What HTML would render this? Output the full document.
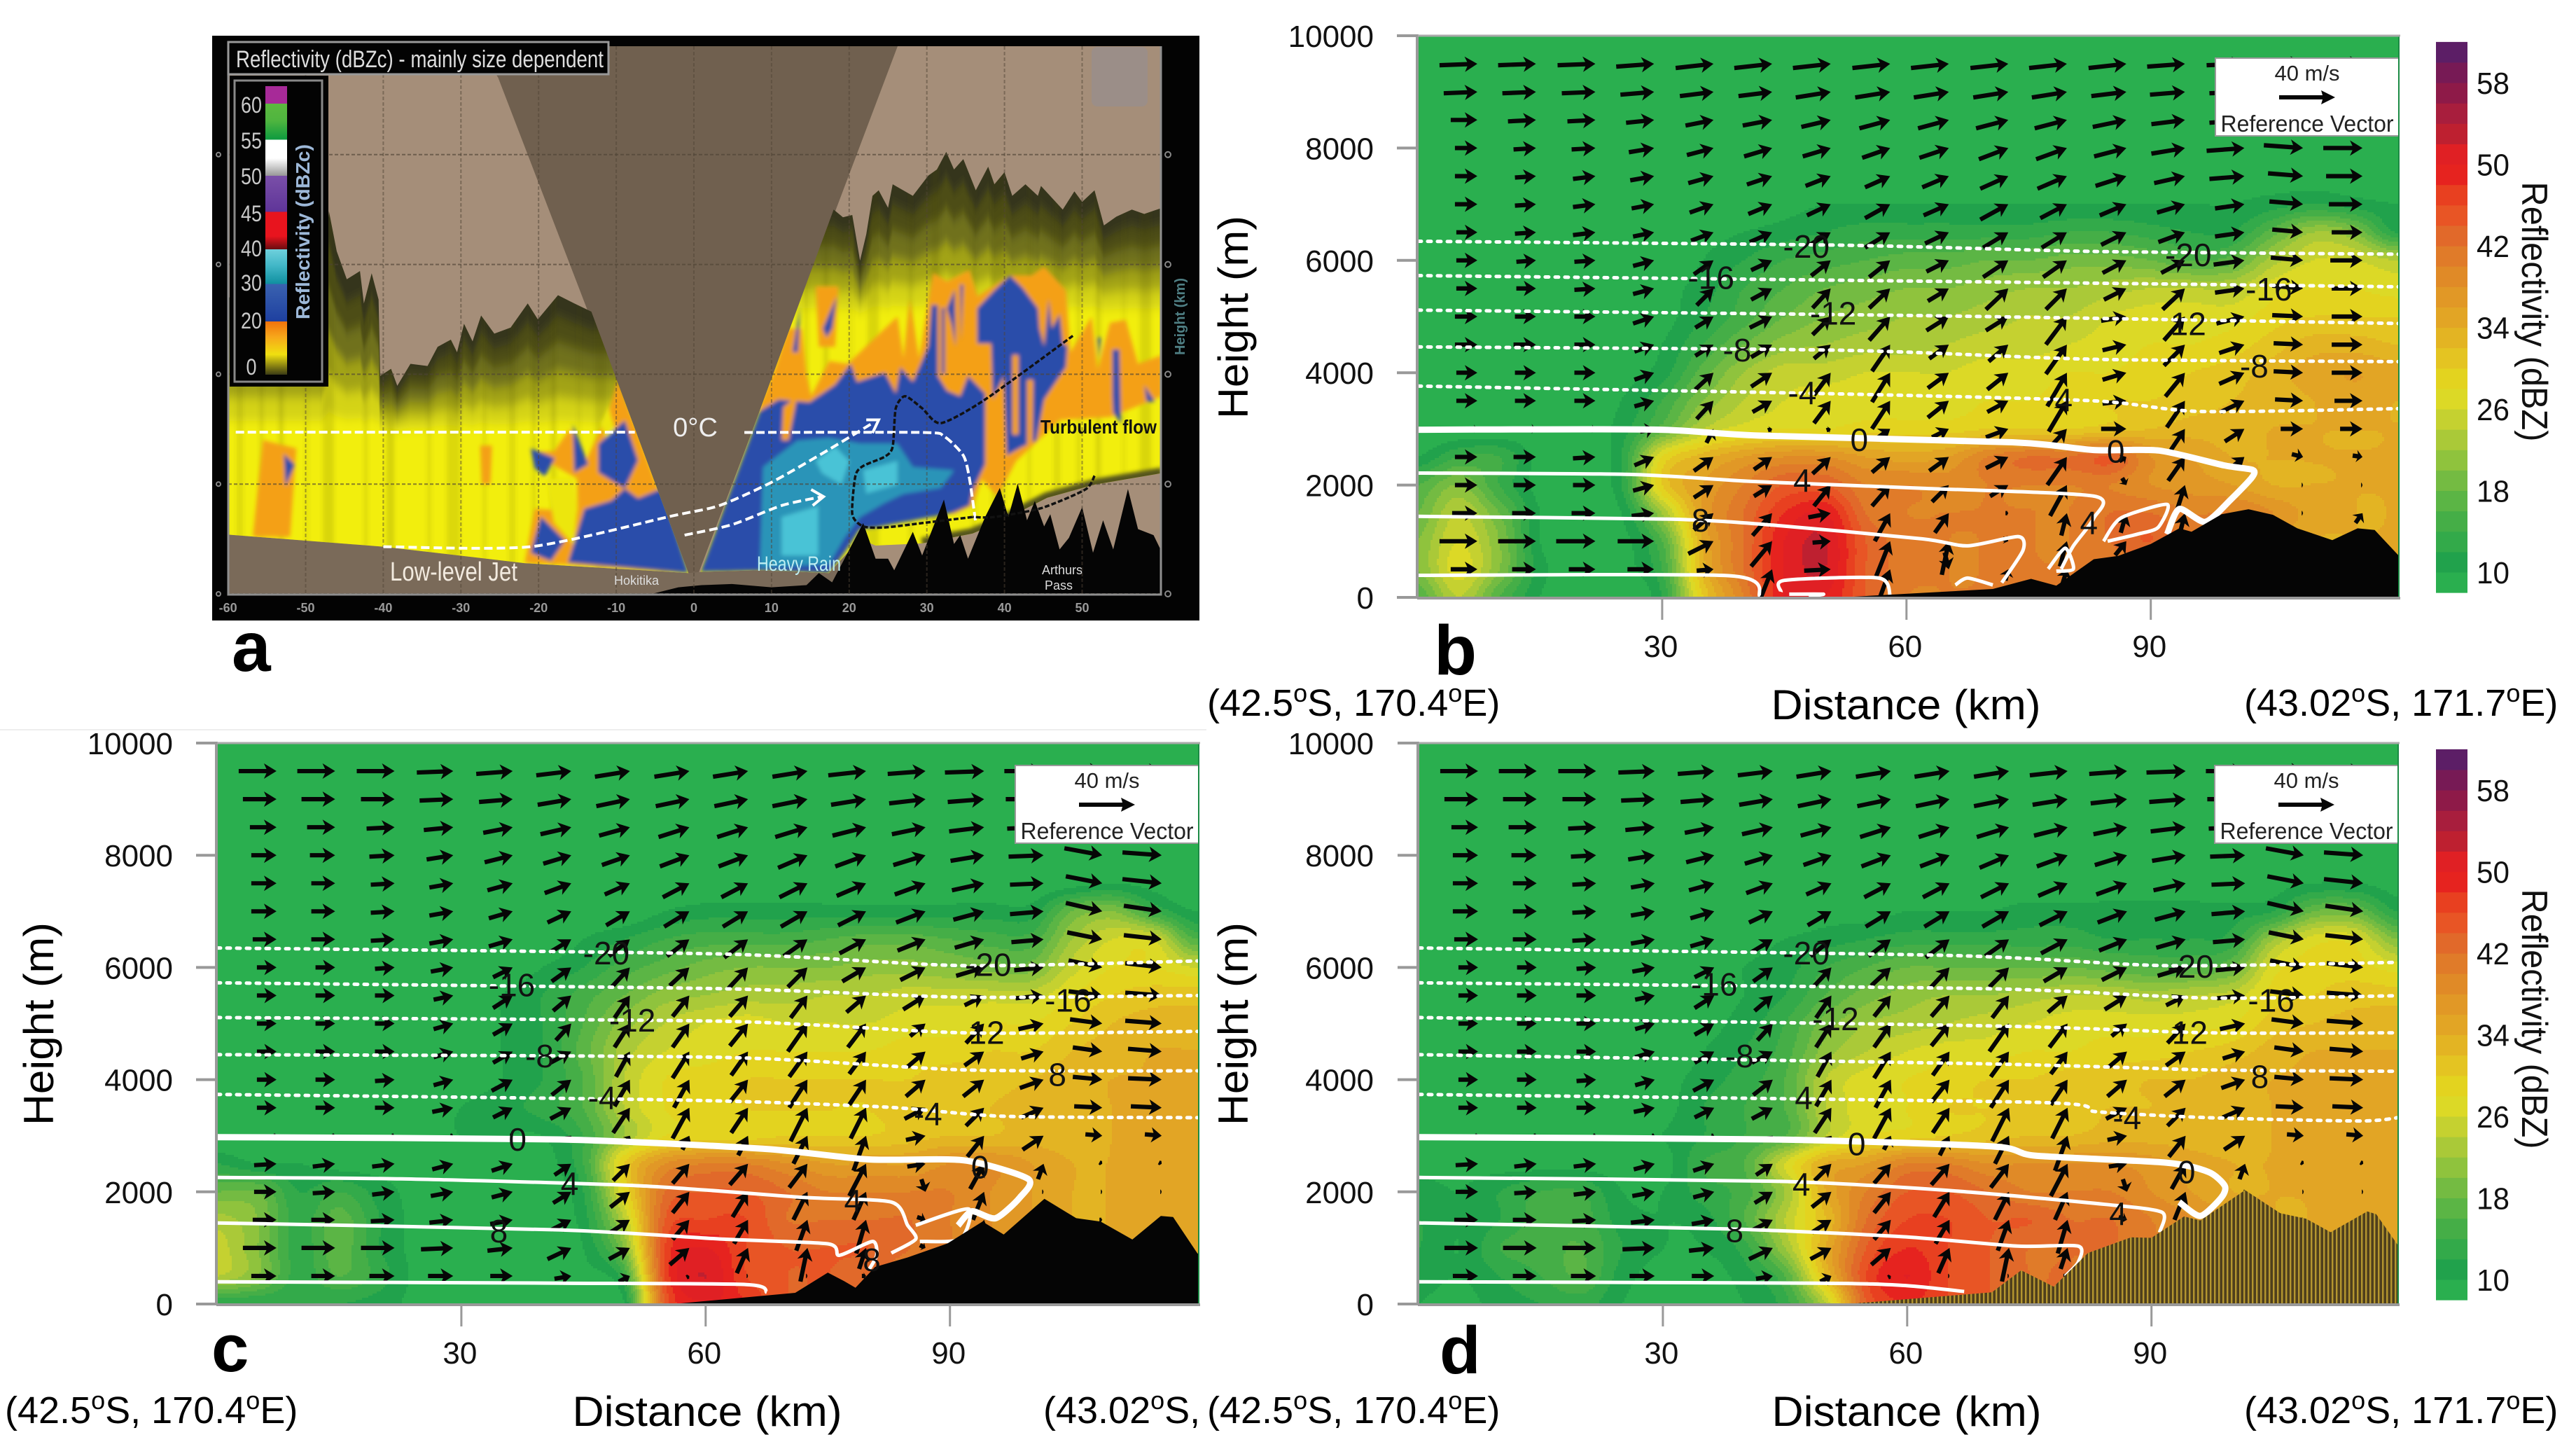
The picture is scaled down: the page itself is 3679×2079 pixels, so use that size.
<!DOCTYPE html>
<html lang="en">
<head>
<meta charset="utf-8">
<title>Reflectivity cross sections</title>
<style>
html,body{margin:0;padding:0;background:#fff}
svg{display:block}
text{font-family:"Liberation Sans",sans-serif}
</style>
</head>
<body>
<svg id="figure" xmlns="http://www.w3.org/2000/svg" width="3679" height="2079" viewBox="0 0 3679 2079">
<defs>
<filter id="radarBlur" x="-5%" y="-5%" width="110%" height="110%"><feGaussianBlur stdDeviation="2.8"/></filter>
<filter id="layerBlur" x="-5%" y="-10%" width="110%" height="120%"><feGaussianBlur stdDeviation="0 8"/></filter>
<pattern id="terrainStripes" width="6" height="10" patternUnits="userSpaceOnUse"><rect width="6" height="10" fill="#4f3f1c"/><rect x="0" width="2.4" height="10" fill="#b4962f"/></pattern>
<pattern id="radarStreaks" width="389" height="10" patternUnits="userSpaceOnUse"><rect x="9" width="7" height="10" fill="#4a4a10" fill-opacity=".16"/><rect x="47" width="4" height="10" fill="#4a4a10" fill-opacity=".11"/><rect x="72" width="16" height="10" fill="#4a4a10" fill-opacity=".14"/><rect x="131" width="5" height="10" fill="#4a4a10" fill-opacity=".13"/><rect x="163" width="11" height="10" fill="#4a4a10" fill-opacity=".17"/><rect x="221" width="6" height="10" fill="#4a4a10" fill-opacity=".11"/><rect x="249" width="19" height="10" fill="#4a4a10" fill-opacity=".13"/><rect x="301" width="4" height="10" fill="#4a4a10" fill-opacity=".15"/><rect x="338" width="9" height="10" fill="#4a4a10" fill-opacity=".12"/><rect x="371" width="5" height="10" fill="#4a4a10" fill-opacity=".14"/></pattern>
<linearGradient id="radarScale" x1="0" y1="0" x2="0" y2="1">
<stop offset="0" stop-color="#a72a98"/><stop offset=".06" stop-color="#a72a98"/><stop offset=".061" stop-color="#5cb93f"/><stop offset=".12" stop-color="#4fb53f"/><stop offset=".185" stop-color="#0d9a3f"/><stop offset=".186" stop-color="#fff"/><stop offset=".25" stop-color="#fff"/><stop offset=".31" stop-color="#999"/><stop offset=".311" stop-color="#7a4fa8"/><stop offset=".435" stop-color="#5f3599"/><stop offset=".436" stop-color="#e8141e"/><stop offset=".52" stop-color="#e8141e"/><stop offset=".565" stop-color="#6a0c10"/><stop offset=".566" stop-color="#6fd0dc"/><stop offset=".62" stop-color="#43b8c8"/><stop offset=".685" stop-color="#1090a0"/><stop offset=".686" stop-color="#3a62b0"/><stop offset=".815" stop-color="#1e40a0"/><stop offset=".816" stop-color="#f0730c"/><stop offset=".87" stop-color="#f7a81a"/><stop offset=".93" stop-color="#f0e010"/><stop offset="1" stop-color="#3b3b14"/>
</linearGradient>
<clipPath id="clipC"><rect x="310" y="1061" width="1402" height="801"/></clipPath>
<clipPath id="clipB"><rect x="2025" y="51" width="1401" height="802"/></clipPath>
<clipPath id="clipD"><rect x="2026" y="1061" width="1399" height="801"/></clipPath>
<clipPath id="clipCoordC"><rect x="1400" y="1960" width="322" height="119"/></clipPath>
<clipPath id="clipRadarPlot"><rect x="326" y="66" width="1332" height="782"/></clipPath>
</defs>
<rect width="3679" height="2079" fill="#fff"/>
<line x1="0" y1="1042" x2="1723" y2="1042" stroke="#eee" stroke-width="2"/>

<g id="panelA"></g>
<g id="panelB"></g>
<g id="panelC"></g>
<g id="panelD"></g>

<text x="331" y="958" font-size="100" font-weight="bold">a</text>
<text x="2048" y="963" font-size="100" font-weight="bold">b</text>
<text x="302" y="1958" font-size="96" font-weight="bold">c</text>
<text x="2056" y="1961" font-size="96" font-weight="bold">d</text>

<text transform="translate(1782,453) rotate(-90)" text-anchor="middle" font-size="60" textLength="290" lengthAdjust="spacingAndGlyphs">Height (m)</text>
<text transform="translate(76,1462) rotate(-90)" text-anchor="middle" font-size="60" textLength="290" lengthAdjust="spacingAndGlyphs">Height (m)</text>
<text transform="translate(1782,1462) rotate(-90)" text-anchor="middle" font-size="60" textLength="290" lengthAdjust="spacingAndGlyphs">Height (m)</text>

<text x="2722" y="1027" text-anchor="middle" font-size="60" textLength="385" lengthAdjust="spacingAndGlyphs">Distance (km)</text>
<text x="1010" y="2036" text-anchor="middle" font-size="60" textLength="385" lengthAdjust="spacingAndGlyphs">Distance (km)</text>
<text x="2723" y="2036" text-anchor="middle" font-size="60" textLength="385" lengthAdjust="spacingAndGlyphs">Distance (km)</text>

<text x="1724" y="1022" font-size="54">(42.5<tspan dy="-20" font-size="36">o</tspan><tspan dy="20">S, 170.4</tspan><tspan dy="-20" font-size="36">o</tspan><tspan dy="20">E)</tspan></text>
<text x="3205" y="1022" font-size="54">(43.02<tspan dy="-20" font-size="36">o</tspan><tspan dy="20">S, 171.7</tspan><tspan dy="-20" font-size="36">o</tspan><tspan dy="20">E)</tspan></text>
<text x="7" y="2032" font-size="54">(42.5<tspan dy="-20" font-size="36">o</tspan><tspan dy="20">S, 170.4</tspan><tspan dy="-20" font-size="36">o</tspan><tspan dy="20">E)</tspan></text>
<g clip-path="url(#clipCoordC)"><text x="1490" y="2032" font-size="54">(43.02<tspan dy="-20" font-size="36">o</tspan><tspan dy="20">S, 171.7</tspan><tspan dy="-20" font-size="36">o</tspan><tspan dy="20">E)</tspan></text></g>
<text x="1724" y="2032" font-size="54">(42.5<tspan dy="-20" font-size="36">o</tspan><tspan dy="20">S, 170.4</tspan><tspan dy="-20" font-size="36">o</tspan><tspan dy="20">E)</tspan></text>
<text x="3205" y="2032" font-size="54">(43.02<tspan dy="-20" font-size="36">o</tspan><tspan dy="20">S, 171.7</tspan><tspan dy="-20" font-size="36">o</tspan><tspan dy="20">E)</tspan></text>
</svg>

<script>
/* ---------- shared axis data ---------- */
const heightTicks=[0,2000,4000,6000,8000,10000];
const distanceTicks=[30,60,90];
const colorbarTicks=[10,18,26,34,42,50,58];
const bandLevels=[8,10,12,14,16,18,20,22,24,26,28,30,32,34,36,38,40,42,44,46,48,50,52,54,56,58,60];
const bandColors=["#2aaf4f","#21a24c","#33aa4a","#45ae47","#5bb545","#74bb42","#8fc33d","#aac938","#c5d130","#dcd926","#e3d31f","#e4c422","#e3b423","#e2a525","#e19826","#e08a27","#e07b29","#e1692a","#e85525","#e84020","#e6231f","#e02024","#be2030","#a81e3d","#8e1a48","#771a55","#5c1e66"];
const gridDistances=[0,5,10,15,20,25,30,35,40,45,50,55,60,65,70,75,80,85,90,95,100,105,110,115,120];
const gridHeights=[10000,9500,9000,8500,8000,7500,7000,6500,6000,5500,5000,4500,4000,3500,3000,2500,2000,1500,1000,500,0];
const windDistances=[7.3,14.5,21.8,29,36.3,43.5,50.7,58,65.2,72.5,79.7,87,94.2,101.5,108.7,116];
const windHeights=[9500,9000,8500,8000,7500,7000,6500,6000,5500,5000,4500,4000,3500,3000,2500,2000,1500,1000,500];

/* ---------- reflectivity (dBZ), rows top to bottom ---------- */
const reflectivityB=[
[8,8,8,8,8,8,8,8,8,8,8,8,8,8,8,8,8,8,8,8,8,8,8,8,8],
[8,8,8,8,8,8,8,8,8,8,8,8,8,8,8,8,8,8,8,8,8,8,8,8,8],
[8,8,8,8,8,8,8,8,8,8,8,8,8,8,8,8,8,8,8,8,8,8,8,8,8],
[8,8,8,8,8,8,8,8,8,8,8,8,8,8,8,8,8,8,8,8,8,8,8,8,8],
[8,8,8,8,8,8,8,8,8,8,8,8,8,8,8,8,8,8,8,8,8,8,8,8,8],
[8,8,8,8,8,8,8,8,8,8,8,8,8,8,8,8,8,8,8,8,9,9,9,9,8],
[8,8,8,8,8,8,8,8,8,9,10,10,10,10,10,10,10,10,10,10,10,11,12,11,10],
[8,8,8,8,8,8,8,9,10,11,12,13,13,13,13,13,14,14,13,12,12,17,22,20,12],
[8,8,8,8,8,8,8,10,12,14,15,16,17,17,18,18,19,19,18,16,17,23,26,26,24],
[8,8,8,8,8,8,9,11,14,16,18,19,20,20,21,22,22,23,24,24,24,27,28,28,27],
[8,8,8,8,8,8,9,12,15,18,20,21,22,22,23,24,24,26,27,27,27,29,30,30,30],
[8,8,8,8,8,8,10,14,18,21,22,23,23,24,25,25,26,27,28,28,29,31,33,33,32],
[8,8,8,8,8,9,11,17,22,25,25,26,26,26,27,27,28,28,29,30,31,33,35,36,35],
[8,8,8,8,8,10,14,20,24,26,27,27,27,27,28,28,29,30,30,31,32,33,34,35,34],
[8,8,8,8,8,11,17,24,27,28,28,29,29,29,30,30,30,31,32,33,33,34,34,34,34],
[10,14,14,9,8,12,28,33,36,38,38,36,35,36,40,42,42,44,38,36,34,34,34,34,34],
[16,20,14,9,8,12,30,36,40,44,44,40,40,39,40,40,40,40,38,37,36,34,34,34,34],
[18,24,18,10,8,10,22,36,42,48,50,42,40,40,40,40,40,42,42,40,40,38,35,34,34],
[20,26,20,10,8,9,16,34,42,50,52,44,41,40,40,40,40,42,44,40,38,36,34,34,34],
[20,27,20,11,8,9,14,33,42,50,52,44,41,40,40,40,40,40,40,38,36,34,34,34,34],
[16,24,16,10,8,8,12,30,40,50,50,44,40,40,40,40,40,40,38,36,34,34,34,34,34]
];
const reflectivityC=[
[8,8,8,8,8,8,8,8,8,8,8,8,8,8,8,8,8,8,8,8,8,8,8,8,8],
[8,8,8,8,8,8,8,8,8,8,8,8,8,8,8,8,8,8,8,8,8,8,8,8,8],
[8,8,8,8,8,8,8,8,8,8,8,8,8,8,8,8,8,8,8,8,8,8,8,8,8],
[8,8,8,8,8,8,8,8,8,8,8,8,8,8,8,8,8,8,8,8,8,8,8,8,8],
[8,8,8,8,8,8,8,8,8,8,8,8,8,8,8,8,8,8,8,8,8,8,8,8,8],
[8,8,8,8,8,8,8,8,8,8,8,8,8,8,8,8,8,8,8,8,8,9,10,9,8],
[8,8,8,8,8,8,8,8,8,8,8,10,11,11,11,11,11,11,11,11,11,18,20,14,10],
[8,8,8,8,8,8,8,8,8,10,12,14,15,15,15,16,17,17,16,15,15,22,26,26,16],
[8,8,8,8,8,8,8,8,10,12,15,17,19,20,20,20,21,21,20,19,19,25,28,28,26],
[8,8,8,8,8,8,8,10,12,15,18,21,22,23,23,24,24,25,25,25,25,28,30,31,31],
[8,8,8,8,8,8,8,10,12,16,21,24,26,27,26,26,26,27,27,28,28,30,32,33,33],
[8,8,8,8,8,8,9,10,12,17,23,26,27,28,28,28,28,29,29,30,30,32,33,34,34],
[8,8,8,8,8,8,9,10,12,16,24,28,29,30,30,30,30,30,31,31,32,33,34,34,34],
[8,8,8,8,8,9,10,11,13,16,24,28,29,30,30,30,30,31,31,32,33,33,34,34,34],
[8,8,8,8,8,9,10,10,10,14,22,28,29,29,30,30,30,31,32,32,33,33,34,34,34],
[12,10,10,9,9,9,9,9,9,14,30,38,40,40,38,36,36,36,38,38,36,34,34,34,34],
[18,18,12,14,11,9,8,8,9,12,28,42,44,44,42,40,40,40,40,38,36,34,34,34,34],
[23,20,13,17,12,9,8,8,9,11,24,44,46,46,42,42,42,42,40,38,36,34,34,34,34],
[25,20,13,17,12,9,8,8,8,10,20,46,50,46,44,44,44,42,40,38,36,34,34,34,34],
[24,20,13,16,13,9,8,8,8,9,14,46,52,46,44,44,42,40,38,36,34,34,34,34,34],
[12,12,12,12,11,9,8,8,8,8,10,44,50,48,44,44,42,40,38,36,34,34,34,34,34]
];
const reflectivityD=[
[8,8,8,8,8,8,8,8,8,8,8,8,8,8,8,8,8,8,8,8,8,8,8,8,8],
[8,8,8,8,8,8,8,8,8,8,8,8,8,8,8,8,8,8,8,8,8,8,8,8,8],
[8,8,8,8,8,8,8,8,8,8,8,8,8,8,8,8,8,8,8,8,8,8,8,8,8],
[8,8,8,8,8,8,8,8,8,8,8,8,8,8,8,8,8,8,8,8,8,8,8,8,8],
[8,8,8,8,8,8,8,8,8,8,8,8,8,8,8,8,8,8,8,8,8,8,8,8,8],
[8,8,8,8,8,8,8,8,8,8,8,8,8,8,8,8,8,8,8,8,8,9,10,10,9],
[8,8,8,8,8,8,8,8,8,8,9,9,10,10,10,11,11,11,11,11,11,12,18,18,12],
[8,8,8,8,8,8,8,8,9,10,11,12,13,13,13,13,13,12,12,12,13,22,27,27,20],
[8,8,8,8,8,8,8,9,10,11,14,16,18,18,18,18,18,17,16,16,18,27,29,29,27],
[8,8,8,8,8,8,8,9,10,12,16,19,21,22,22,23,24,24,23,24,25,29,30,31,31],
[8,8,8,8,8,8,8,9,11,14,19,22,23,24,25,26,27,27,27,27,28,31,32,33,33],
[8,8,8,8,8,8,8,10,12,15,21,24,26,27,27,28,28,29,29,30,31,33,34,34,34],
[8,8,8,8,8,8,9,11,13,16,24,27,28,29,30,30,31,31,32,32,33,34,34,34,34],
[8,8,8,8,8,8,9,12,14,16,24,27,28,30,30,31,31,32,32,33,33,34,34,34,34],
[8,8,8,8,8,9,10,12,14,16,24,28,29,30,31,32,32,33,33,33,33,34,34,34,34],
[9,9,9,9,9,9,9,14,16,26,34,36,40,40,38,38,38,38,37,35,34,34,34,34,34],
[11,10,12,14,14,10,10,13,15,22,34,40,44,44,42,40,40,40,38,36,34,34,34,34,34],
[12,10,12,15,15,11,10,11,16,24,32,42,46,46,44,44,42,42,40,38,36,34,34,34,34],
[12,10,14,15,16,12,10,10,13,22,34,44,48,46,44,42,42,42,40,38,36,34,34,34,34],
[11,10,12,14,16,11,9,9,11,16,32,46,50,46,44,42,42,40,38,36,34,34,34,34,34],
[10,9,11,12,13,10,9,9,10,13,24,44,48,46,44,42,42,40,38,36,34,34,34,34,34]
];

/* ---------- wind components (m/s), rows top to bottom ---------- */
const windUB=[
[27,27,27,27,27,27,27,27,27,27,27,27,27,27,27,27],
[24,24,24,24,24,24,25,25,25,25,25,25,25,25,25,25],
[19,20,20,20,20,21,21,22,22,23,23,24,24,25,25,25],
[16,16,17,18,19,20,20,20,21,21,22,23,24,27,28,28],
[16,15,16,17,18,18,18,18,19,20,21,22,22,25,25,26],
[16,15,16,16,17,17,17,18,18,20,19,19,20,21,24,24],
[15,15,16,15,16,16,15,18,17,18,18,18,19,21,22,22],
[15,14,15,15,14,15,14,15,16,18,17,17,17,22,23,23],
[15,14,15,15,12,15,13,15,15,16,15,16,16,21,22,22],
[16,15,15,15,13,16,13,15,16,16,15,18,15,20,22,22],
[16,16,15,14,13,15,12,13,14,14,15,17,15,18,21,22],
[15,15,15,14,13,15,12,13,15,15,14,17,14,18,21,22],
[15,15,15,14,12,14,12,13,15,15,13,17,13,17,20,20],
[4,5,4,10,5,3,3,10,12,16,12,18,10,14,16,16],
[16,16,16,14,14,13,13,13,14,16,14,5,12,10,8,7],
[16,16,16,15,14,13,12,13,12,13,12,3,7,1,1,1],
[18,17,17,16,14,14,16,11,10,2,4,4,4,1,1,5],
[27,27,28,26,18,15,13,10,5,4,5,8,8,1,1,1],
[19,17,19,19,12,8,19,8,3,2,3,4,2,1,1,1]
];
const windVB=[
[1,1,1,2,3,3,3,3,3,3,3,3,2,1,0,0],
[1,1,1,2,3,3,4,4,4,4,4,3,2,1,0,0],
[0,1,1,2,4,4,5,6,6,6,6,5,3,2,0,0],
[0,1,1,3,5,6,6,7,7,8,8,6,4,2,-2,0],
[0,1,2,3,5,6,7,8,8,9,9,7,5,2,-2,0],
[0,1,2,3,6,7,8,10,8,11,10,8,6,3,-2,0],
[0,1,2,3,6,7,9,11,8,11,11,9,7,3,-2,0],
[0,1,1,4,10,7,11,12,8,12,12,9,9,3,-2,0],
[0,0,1,4,12,8,14,14,9,15,15,8,15,3,-2,0],
[0,0,0,5,8,8,13,17,10,10,20,3,17,5,-1,0],
[0,0,0,5,8,9,10,19,10,12,21,4,15,6,-1,0],
[0,0,0,5,12,10,16,21,11,12,24,5,17,8,-1,0],
[0,0,0,4,13,8,16,20,12,8,22,2,19,8,-1,0],
[0,0,0,2,10,1,1,7,6,6,13,0,15,9,0,0],
[0,0,1,6,10,9,12,11,10,8,20,3,17,8,-2,-1],
[0,0,0,4,9,8,15,15,12,8,22,-5,22,0,0,0],
[0,0,0,2,12,16,3,20,14,0,16,14,16,0,0,7],
[0,0,0,0,9,18,1,25,24,-2,18,10,10,0,0,0],
[0,0,0,0,1,20,1,22,-12,8,10,4,2,0,0,0]
];
const windUC=[
[27,27,27,26,26,25,25,25,25,25,27,27,28,28,28,28],
[24,24,24,24,24,24,24,24,24,25,25,26,26,27,27,27],
[19,20,20,21,21,22,22,22,22,23,24,24,25,26,27,27],
[18,18,18,19,20,20,20,21,21,21,22,23,24,25,27,28],
[18,17,17,17,18,19,18,19,19,20,21,22,23,24,26,28],
[18,17,17,17,17,17,17,18,18,19,20,21,22,24,26,27],
[17,17,17,17,17,15,15,16,17,17,19,20,21,23,25,27],
[14,14,14,16,14,14,13,14,14,14,17,18,20,21,24,26],
[14,14,14,14,14,13,11,12,13,12,14,16,14,20,24,26],
[14,14,14,14,14,11,11,12,13,14,13,11,13,18,23,26],
[14,14,14,14,14,15,10,12,12,13,12,13,14,16,21,24],
[14,14,14,14,15,14,11,11,13,13,12,14,15,17,21,24],
[14,14,14,15,14,15,12,12,12,12,11,15,13,16,20,22],
[2,2,2,2,2,3,3,5,7,10,9,14,12,15,12,12],
[16,16,16,15,15,12,12,12,13,13,12,13,10,4,2,2],
[16,16,16,16,15,13,14,12,11,10,9,3,8,1,1,1],
[17,17,17,17,16,14,14,12,10,8,7,6,4,3,2,1],
[24,24,24,23,18,17,15,14,8,5,5,4,3,2,2,1],
[18,17,18,18,16,12,8,2,1,1,3,3,2,2,1,1]
];
const windVC=[
[0,0,0,1,2,3,4,4,4,4,3,2,1,0,-1,0],
[0,0,0,1,2,4,5,5,5,5,4,3,2,0,-1,0],
[0,0,1,2,4,5,6,7,7,7,6,5,3,1,-2,-1],
[0,0,1,3,5,6,7,8,8,9,8,7,4,1,-5,-2],
[0,0,1,3,5,7,8,10,10,10,9,8,5,1,-5,-3],
[0,0,1,3,5,8,10,11,11,11,10,8,6,2,-6,-4],
[0,0,1,3,5,9,12,12,13,12,10,8,6,2,-5,-3],
[0,0,1,3,7,10,14,13,15,14,10,9,6,2,-5,-3],
[0,0,0,3,9,11,16,15,15,16,12,10,7,2,-3,-2],
[0,0,0,4,8,12,17,17,16,20,17,9,14,4,-3,-2],
[0,0,0,4,8,8,18,19,17,18,16,11,10,5,-3,-2],
[0,0,1,4,8,11,19,20,16,20,18,12,12,6,-2,-1],
[0,0,0,3,7,8,18,22,18,24,22,8,13,7,-1,-1],
[0,0,0,0,0,4,5,10,14,20,25,3,15,10,-1,-1],
[1,2,2,4,5,8,12,14,15,17,23,2,18,11,-1,-1],
[0,1,2,3,4,8,11,15,18,20,20,-9,20,0,0,0],
[0,0,1,2,3,7,9,14,17,22,24,-2,20,1,0,0],
[0,0,0,1,2,8,8,12,18,24,15,-2,10,0,0,0],
[0,0,0,0,0,2,4,1,0,0,0,0,0,0,0,0]
];

/* ---------- terrain: [km, m] ---------- */
const terrainB=[[51.9,0],[70.6,150],[75.3,330],[78.4,210],[83,680],[86,740],[90,950],[93.5,1230],[95,1170],[98.7,1480],[102,1570],[105,1470],[108,1230],[112.3,1020],[115.4,1230],[117.5,1200],[120.4,750]];
const terrainC=[[56,0],[71,200],[75,560],[77,410],[78.4,290],[80.8,660],[84.8,830],[89.7,1080],[94,1470],[96.6,1240],[101.6,1876],[105.5,1530],[108.5,1470],[112.4,1150],[115.9,1570],[117.4,1550],[120.4,900]];
const terrainD=[[52.6,0],[70.4,210],[74,600],[78,310],[82.2,910],[87.5,1190],[90,1180],[94,1560],[96,1490],[101.5,2030],[105.8,1620],[109,1520],[112,1280],[116.5,1650],[117.6,1600],[120.3,1040]];

/* ---------- isotherms: [km, m] ---------- */
const coldIsothermsB=[
[[0,6340],[52,6270],[83,6160],[120.4,6110]],
[[0,5730],[62,5630],[120.4,5530]],
[[0,5115],[62,5016],[120.4,4877]],
[[0,4460],[52,4400],[83,4240],[120.4,4197]],
[[0,3762],[52,3622],[83,3500],[96,3310],[120.4,3360]]
];
const freezingLineB=[[0,2985],[10,2990],[30,2985],[42,2880],[73,2762],[83,2623],[91,2615],[99,2350],[102.5,2270],[102.4,2131],[99.8,1738],[96.7,1344],[93.5,1574],[92,1123]];
const warmIsothermsB=[
[[0,2213],[26,2190],[41,2065],[62,1943],[83,1803],[83,1410],[80.5,918],[79,508]],
[[77.4,508],[79.5,877],[80.5,508],[78.4,467]],
[[84.2,1000],[86.3,1410],[92,1656],[90.9,1246],[88.3,1123],[84.7,1000]],
[[0,1443],[31,1393],[43.6,1287],[62,1041],[67.5,918],[73.75,1082],[74.3,836],[71.7,262]],
[[0,393],[38.3,385],[42,16]],
[[44.6,98],[45,303],[56.6,344],[58,16]],
[[45.6,57],[49.8,57],[48,20]],
[[66,221],[67.5,344],[70.6,221]]
];
const coldIsothermsC=[
[[0,6347],[62,6240],[91.7,6033],[120.4,6116]],
[[0,5727],[62,5620],[91.7,5470],[120.4,5500]],
[[0,5107],[62,5041],[91.7,4835],[120.4,4860]],
[[0,4446],[62,4397],[91.7,4174],[120.4,4157]],
[[0,3736],[57,3636],[82,3512],[96.6,3347],[120.4,3322]]
];
const freezingLineC=[[0,2975],[42,2934],[67,2768],[80,2578],[91.7,2562],[99.6,2231],[98.6,1901],[95.6,1529],[92.7,1653],[91,1400]];
const warmIsothermsC=[
[[0,2256],[22.6,2231],[52,2107],[72,1900],[82.8,1818],[84.8,1405],[85.8,1157],[82.8,909]],
[[85.8,1405],[92.3,1694],[91.3,1157],[86.3,1116]],
[[0,1446],[42,1322],[62,1157],[75,1074],[76.4,868],[80.5,1116],[81,868],[80,600]],
[[0,397],[42,372],[65,347],[67.5,207]]
];
const coldIsothermsD=[
[[0,6347],[65,6215],[91.8,6033],[120.3,6091]],
[[0,5727],[70,5620],[97,5455],[120.3,5496]],
[[0,5107],[70,4959],[97,4835],[120.3,4835]],
[[0,4446],[70,4281],[97,4174],[120.3,4149]],
[[0,3736],[75.7,3595],[83.2,3430],[97,3322],[115.5,3264],[120.3,3322]]
];
const freezingLineD=[[0,2975],[43.5,2934],[70.4,2810],[75.7,2645],[91.8,2521],[97,2355],[99,2107],[98.6,1901],[96,1570],[93.4,1818]];
const warmIsothermsD=[
[[0,2256],[43.5,2190],[65,2025],[84.3,1777],[91.3,1636],[91,1281]],
[[0,1446],[38,1339],[59.6,1198],[73.5,1033],[81,1033],[81,744],[79.4,496]],
[[0,397],[48.9,372],[59.6,331],[67,223]]
];

/* ---------- contour labels: [text, km, m] ---------- */
const contourLabelsB=[["-20",47.7,6246],["-20",94.6,6098],["-16",36,5689],["-16",104.5,5484],["-12",51,5057],["12",94.6,4869],["-8",39.2,4402],["-8",102.7,4115],["-4",47.2,3639],["4",79.3,3516],["0",54.2,2803],["0",85.7,2598],["4",47.2,2082],["4",82.4,1328],["8",34.7,1369]];
const contourLabelsC=[["-20",47.8,6256],["-20",94.7,6050],["-16",36.2,5686],["-16",104.5,5413],["-12",51,5058],["12",94.5,4835],["-8",39.6,4421],["8",103.2,4091],["-4",47.3,3678],["-4",87.3,3388],["0",36.9,2934],["0",93.7,2438],["4",43.3,2149],["4",78.1,1835],["8",34.6,1298],["8",80.4,785]];
const contourLabelsD=[["-20",47.6,6256],["-20",94.8,6017],["-16",36.3,5702],["-16",104.7,5413],["-12",51.2,5083],["12",94.7,4835],["-8",39.4,4421],["8",103.3,4050],["4",47.3,3678],["-4",87,3322],["0",53.8,2851],["0",94.3,2355],["4",47,2132],["4",85.9,1612],["8",38.8,1306]];

/* ---------- radar panel a: polygons in [km, km height] ---------- */
const radarXTicks=[-60,-50,-40,-30,-20,-10,0,10,20,30,40,50];
const radarZTicks=[0,2,4,6,8];
const radarScaleLabels=[["60",150],["55",201],["50",252],["45",305],["40",355],["30",404],["20",458],["0",524]];
const coneLeftEdge=[[-25.2,9.4],[-0.7,0.38]];
const coneRightEdge=[[0.6,0.38],[26.3,10]];
const leftTop=[[-60,5.4],[-48,5.4],[-47,6.97],[-46,6.24],[-44.7,5.73],[-43,5.88],[-42.5,5.29],[-41.5,5.84],[-40.6,5.36],[-40.4,3.97],[-39,4.1],[-38.2,3.79],[-36.5,4.19],[-34.3,4.15],[-33,4.5],[-31.3,4.63],[-30.5,4.4],[-29.6,4.92],[-28.5,4.6],[-27.4,5.07],[-25.7,4.74],[-23.6,4.85],[-21.4,5.29],[-20.1,5],[-17.5,5.44],[-15.4,5.29],[-13.2,5.14]];
const leftBottom=[[-0.7,0.38],[-21.8,0.56],[-40,0.86],[-60,1.08]];
const rightTop=[[18,7],[19.2,6.86],[20.4,6.9],[21.4,6.07],[22.2,6.55],[23,7.25],[23.8,7.35],[25,7.03],[25.6,7.46],[28.2,7.25],[30.2,7.62],[31.3,7.73],[32.5,8.05],[33.5,7.73],[34.7,7.92],[36.3,7.35],[37.9,7.78],[38.7,7.46],[40,7.68],[41,7.25],[42.7,7.46],[44.3,7.25],[44.7,7.43],[47.5,7],[49,7.33],[50,7.14],[51.6,7.35],[52.8,6.71],[54.4,6.87],[56.4,7],[58,6.92],[60.3,7.03]];
const rightBottom=[[60.3,2.2],[51.6,1.99],[45.5,1.75],[39.5,1.32],[35.9,1.1],[29.4,0.92],[23.4,0.88],[21.4,1],[17.4,0.38],[8.5,0.43],[0.85,0.4]];
const groundDark=[[-60,0],[-60,1.08],[-40,0.86],[-21.8,0.56],[-0.7,0.38],[0.85,0.4],[8.5,0.43],[17.4,0.38],[21.4,1],[21.4,0]];
const mountains=[[-5.4,0],[-2,0.12],[1,0.16],[4.9,0.18],[10,0.12],[14.5,0.16],[16.1,0.38],[17.8,0.21],[19.8,0.75],[21.8,1.29],[23.4,0.64],[25,0.64],[25.8,0.43],[28.2,1.13],[29.4,0.7],[32.2,1.72],[33.5,0.91],[34.3,1.07],[35.3,0.64],[37.5,1.4],[39.4,1.93],[40.5,1.4],[41.7,2.01],[42.9,1.34],[43.9,1.69],[45.1,1.23],[45.9,1.45],[47.1,0.81],[48.3,1.02],[50,1.58],[51.4,0.75],[52.7,1.34],[54,0.81],[55.9,1.91],[57.2,1.18],[59.2,1.07],[60.3,0.75],[60.3,0]];
const orangeBlobs=[
[[8.5,3.44],[10.5,4.13],[12.1,4.83],[13.9,4.83],[14.5,4],[15.1,3.6],[17.4,4.24],[19.8,4.19],[22.2,4.51],[23,4.62],[26.2,5.05],[27,4.29],[27.8,5.37],[29,4.29],[30.8,5.85],[32.6,5.69],[35.5,5.9],[36.5,5.42],[40.7,5.8],[43.5,5.8],[45.1,5.96],[47.9,5.53],[48.5,4.4],[51.2,5.05],[52,4.08],[53.6,4.94],[55.6,4.99],[57.2,4.19],[60.3,4.35],[60.3,3.6],[53.6,3.22],[47.1,3.17],[43.5,2.68],[41.5,2.42],[39.1,1.77],[37.1,2.09],[35.9,1.61],[33.4,1.45],[8.5,2.9]],
[[15.7,5.6],[18.6,5.6],[18.2,4.5],[16.1,4.5]],
[[-21,2.58],[-18,2.6],[-16,3],[-14,2.4],[-11,3.3],[-9.8,3.9],[-7.2,2.94],[-4.6,1.92],[-0.7,0.38],[-15.8,0.53],[-21.8,0.56],[-20.5,1.55],[-15,1.5],[-15,2.1]],
[[-56.8,1.04],[-55.5,2.8],[-51.2,2.65],[-52,1.04]],
[[-27.5,2.7],[-26,2.7],[-26.2,2],[-27.3,2]]
];
const yellowPatches=[
[[-19,2.1],[-15.5,2.1],[-15,1.6],[-15.5,0.9],[-18,1.3]],
[[-12,3.1],[-11,3.4],[-10,2.9],[-11,2.7]]
];
const innerOrangeStrips=[
[[41,4.35],[41.8,4.35],[41.8,2.9],[41,2.9]],
[[42.9,3.9],[43.7,3.9],[43.6,2.7],[42.9,2.7]],
[[11.5,3.4],[13.3,3.6],[12.2,2.8],[11.3,2.8]]
];
const blueBlobs=[
[[0.85,0.4],[8.5,3.33],[10.9,3.54],[14.9,3.49],[18.2,3.81],[20.2,4.19],[21,3.86],[24.6,4.03],[26,3.65],[26.6,4.13],[28.2,3.86],[30.2,4.51],[30.6,5.26],[31.4,5.26],[31.4,3.97],[32.6,3.7],[34.3,3.6],[35.3,3.97],[37.5,3.65],[37.5,2.36],[35.9,1.88],[35.5,1.61],[33.4,1.48],[29.4,1.37],[23.4,1.21],[21.4,1.18],[19.4,0.75],[17.4,0.38],[8.5,0.42]],
[[36.5,5.2],[38.7,5.53],[40.7,5.8],[42.3,5.58],[44.3,5.2],[44.5,4.83],[45.1,4.51],[45.7,5.37],[46.1,4.83],[47.1,5.1],[47.5,4.56],[48.1,4.51],[47.9,4.13],[45.1,3.54],[44.1,2.79],[42.3,2.68],[40.3,2.52],[39.9,3.97],[38.5,3.54],[38.3,4.56],[36.5,4.56]],
[[31.9,5.21],[32.3,5.21],[32.3,4],[31.9,4]],
[[32.6,5.2],[33.6,5.55],[33.7,4.5],[33.2,4.9]],
[[34.3,5.63],[34.7,5.63],[34.4,4.6]],
[[52,4.67],[52.4,4.67],[52.2,4.3]],
[[53.9,4.45],[54.8,4.45],[55,3.1],[54,3.3],[53.9,3.6]],
[[58,3.8],[59.4,3.5],[58.3,3.5]],
[[16.6,4.83],[18.4,5.42],[17.8,4.83],[17.1,4.67]],
[[12.7,4.4],[13.7,5.26],[13.4,4.4]],
[[-16.2,0.57],[-14.1,1.55],[-10.6,1.7],[-8.9,1.92],[-7.2,1.74],[-4.1,1.92],[-0.7,0.38]],
[[-12.3,2.73],[-8.9,3.16],[-7.2,2.43],[-8.9,1.92],[-12.3,2.21]],
[[-15.6,3.09],[-13.6,2.36],[-15.4,2.21]],
[[-21,2.65],[-17.9,2.47],[-19.2,2.14],[-20.5,2.29]],
[[-21,0.75],[-19.7,1.41],[-16.6,0.97],[-18.4,0.6]],
[[-52.8,2.55],[-51.4,2.35],[-52.6,1.95]]
];
const cyanBlobs=[
[[8.9,2.31],[13.3,2.79],[17.4,2.84],[21.4,2.74],[26.2,2.74],[28.2,2.31],[33.5,2.25],[31.8,1.93],[27,1.82],[24.6,1.66],[21.4,1.4],[19.4,1.02],[17.4,0.54],[8.5,0.48]]
];
const brightCyanBlobs=[
[[15.7,2.42],[18.2,2.68],[20,2.42],[19,1.99],[16.5,2.2]],
[[21.8,2.25],[26.2,2.42],[26.2,1.99],[22.2,1.83]],
[[11.3,1.4],[16,1.6],[16,0.7],[11.3,0.7]]
];
const zeroDegLeft=[[-59,2.945],[-7.6,2.945]];
const zeroDegRight=[[6.5,2.94],[29.4,2.94],[32.2,2.87],[34.7,2.52],[35.5,2.09],[36.3,1.29]];
const jetPathUpper=[[-40,0.86],[-21,0.86],[-2.8,1.42],[3.3,1.61],[10.1,2.04],[17.4,2.63],[23,3.11]];
const jetPathLower=[[-1.2,1.07],[4.9,1.26],[11.3,1.61],[16.5,1.77]];
const jetHeadUpper=[[22.2,3.17],[23.8,3.17],[23,2.93]];
const jetHeadLower=[[15.1,1.9],[16.7,1.77],[15.3,1.61]];
const frontLineA=[[48.8,4.7],[37.5,3.54],[31.8,3.11],[29.4,3.38],[27.2,3.6],[26,3.38],[25.6,2.68],[24.6,2.5],[21.8,2.33],[20.8,2.15],[20.4,1.45],[21.8,1.23],[24.6,1.21],[29.4,1.29],[35.9,1.4]];
const frontLineB=[[51.6,2.15],[50.4,1.9],[44.7,1.56],[38.7,1.4],[35.9,1.4]];

/* ---------- helpers ---------- */
const NS='http://www.w3.org/2000/svg';
function mk(tag,attrs,parent){
  const e=document.createElementNS(NS,tag);
  for(const k in attrs)e.setAttribute(k,attrs[k]);
  if(parent)parent.appendChild(e);
  return e;
}
function catmull(a,b,c,d,t){return b+0.5*t*(c-a+t*(2*a-5*b+4*c-d+t*(3*(b-c)+d-a)));}
function sampleGrid(grid,km,m){
  const nc=gridDistances.length,nr=gridHeights.length;
  const fx=Math.max(0,Math.min(nc-1.001,km/(gridDistances[1]-gridDistances[0])));
  const fy=Math.max(0,Math.min(nr-1.001,(gridHeights[0]-m)/(gridHeights[0]-gridHeights[1])));
  const ix=Math.floor(fx),iy=Math.floor(fy),tx=fx-ix,ty=fy-iy;
  const rows=[];
  for(let j=-1;j<=2;j++){
    const r=grid[Math.max(0,Math.min(nr-1,iy+j))];
    rows.push(catmull(r[Math.max(0,ix-1)],r[ix],r[Math.min(nc-1,ix+1)],r[Math.min(nc-1,ix+2)],tx));
  }
  return catmull(rows[0],rows[1],rows[2],rows[3],ty);
}
function bandIndex(v){
  let idx=0;
  for(let i=0;i<bandLevels.length;i++){if(v+0.02>=bandLevels[i])idx=i;}
  return idx;
}
function polyPoints(list,xf,yf){return list.map(p=>xf(p[0]).toFixed(1)+','+yf(p[1]).toFixed(1)).join(' ');}
function smoothPath(list,xf,yf){
  const p=list.map(q=>[xf(q[0]),yf(q[1])]);
  let d='M'+p[0][0].toFixed(1)+' '+p[0][1].toFixed(1);
  for(let i=0;i<p.length-1;i++){
    const a=p[Math.max(0,i-1)],b=p[i],c=p[i+1],e=p[Math.min(p.length-1,i+2)];
    const k=0.12;
    d+='C'+(b[0]+(c[0]-a[0])*k).toFixed(1)+' '+(b[1]+(c[1]-a[1])*k).toFixed(1)+' '+(c[0]-(e[0]-b[0])*k).toFixed(1)+' '+(c[1]-(e[1]-b[1])*k).toFixed(1)+' '+c[0].toFixed(1)+' '+c[1].toFixed(1);
  }
  return d;
}

/* ---------- cross-section panel ---------- */
function drawSection(cfg){
  const root=document.getElementById(cfg.id);
  const xS=km=>cfg.x0+km*11.63;
  const yS=m=>cfg.y1-m*(cfg.y1-cfg.y0)/10000;
  const body=mk('g',{'clip-path':'url(#'+cfg.clip+')'},root);
  
  
  /* filled reflectivity */
  const step=3,paths=bandLevels.map(()=>[]);
  for(let py=cfg.y0;py<cfg.y1;py+=step){
    const m=(cfg.y1-(py+step/2))*10000/(cfg.y1-cfg.y0);
    let runStart=cfg.x0,cur=-1;
    for(let px=cfg.x0;px<=cfg.x1+step;px+=step){
      const b=px>cfg.x1?-2:bandIndex(sampleGrid(cfg.grid,(px+step/2-cfg.x0)/11.63,m));
      if(b!==cur){
        if(cur>=0)paths[cur].push('M'+runStart+' '+py+'h'+(px-runStart)+'v'+step+'h'+(runStart-px)+'z');
        runStart=px;cur=b;
      }
    }
  }
  paths.forEach((d,i)=>{
    if(!d.length)return;
    const p=mk('path',{d:d.join(''),fill:bandColors[i],'shape-rendering':'crispEdges'},body);
    
    
  });
  /* wind arrows anchored on their heads */
  windHeights.forEach((h,r)=>{
    windDistances.forEach((d,c)=>{
      const u=cfg.u[r][c],v=cfg.v[r][c];
      const hx=xS(d),hy=yS(h);
      const dx=u*2,dy=-v*2,len=Math.hypot(dx,dy)||1;
      const ux=dx/len,uy=dy/len,nx=-uy,ny=ux;
      const hl=Math.min(18,len*0.62),hw=Math.min(11,len*0.45+2.5),sw=3.1;
      const pts=[[hx,hy],[hx-ux*hl+nx*hw,hy-uy*hl+ny*hw],[hx-ux*hl*.8+nx*sw,hy-uy*hl*.8+ny*sw],[hx-dx+nx*sw,hy-dy+ny*sw],[hx-dx-nx*sw,hy-dy-ny*sw],[hx-ux*hl*.8-nx*sw,hy-uy*hl*.8-ny*sw],[hx-ux*hl-nx*hw,hy-uy*hl-ny*hw]];
      const a=mk('polygon',{points:pts.map(q=>q[0].toFixed(1)+','+q[1].toFixed(1)).join(' '),fill:'#060606'},body);
      
      
    });
  });
  /* isotherms */
  cfg.cold.forEach(line=>{
    const l=mk('path',{d:smoothPath(line,xS,yS),fill:'none',stroke:'#fff','stroke-width':5,'stroke-dasharray':'5 9','stroke-linecap':'round'},body);
    
    
  });
  cfg.warm.forEach(line=>{
    const l=mk('path',{d:smoothPath(line,xS,yS),fill:'none',stroke:'#fff','stroke-width':5,'stroke-linejoin':'round'},body);
    
    
  });
  const fz=mk('path',{d:smoothPath(cfg.freezing,xS,yS),fill:'none',stroke:'#fff','stroke-width':9,'stroke-linejoin':'round'},body);
  
  
  /* terrain */
  const tPts=[[cfg.terrain[0][0],0]].concat(cfg.terrain).concat([[cfg.terrain[cfg.terrain.length-1][0]+2,cfg.terrain[cfg.terrain.length-1][1]],[cfg.terrain[cfg.terrain.length-1][0]+2,0]]);
  const t=mk('polygon',{points:polyPoints(tPts,xS,yS),fill:cfg.terrainFill},body);
  
  
  /* contour labels */
  cfg.labels.forEach(L=>{
    const e=mk('text',{x:xS(L[1]),y:yS(L[2])+16,'text-anchor':'middle','font-size':46,fill:'#111'},body);
    e.textContent=L[0];
    
    
  });
  /* reference vector */
  const box=mk('rect',{x:cfg.x1-262,y:cfg.y0+32,width:262,height:111,fill:'#fff',stroke:'#999','stroke-width':2},root);
  
  
  const bx=cfg.x1-131;
  const t1=mk('text',{x:bx,y:cfg.y0+64,'text-anchor':'middle','font-size':31,fill:'#222'},root);
  t1.textContent='40 m/s';
  
  
  const ay=cfg.y0+88;
  const ra=mk('polygon',{points:[[bx+40,ay],[bx+20,ay-10],[bx+22,ay-3],[bx-40,ay-3],[bx-40,ay+3],[bx+22,ay+3],[bx+20,ay+10]].map(q=>q.join(',')).join(' '),fill:'#060606'},root);
  
  
  const t2=mk('text',{x:bx,y:cfg.y0+137,'text-anchor':'middle','font-size':33,fill:'#222',textLength:247,lengthAdjust:'spacingAndGlyphs'},root);
  t2.textContent='Reference Vector';
  
  
  /* frame */
  const f=mk('rect',{x:cfg.x0,y:cfg.y0,width:cfg.x1-cfg.x0,height:cfg.y1-cfg.y0,fill:'none',stroke:'#1b8a44','stroke-width':2},root);
  
  
  const al=mk('line',{x1:cfg.x0-1,y1:cfg.y0-2,x2:cfg.x0-1,y2:cfg.y1+2,stroke:'#999','stroke-width':4},root);
  
  
  const ab=mk('line',{x1:cfg.x0-1,y1:cfg.y1+1,x2:cfg.x1+2,y2:cfg.y1+1,stroke:'#999','stroke-width':4},root);
  
  
  const at=mk('line',{x1:cfg.x0-30,y1:cfg.y0,x2:cfg.x1+2,y2:cfg.y0,stroke:'#aaa','stroke-width':3},root);
  
  
  /* ticks */
  heightTicks.forEach(h=>{
    const y=yS(h);
    const tk=mk('line',{x1:cfg.x0-30,y1:y,x2:cfg.x0,y2:y,stroke:'#999','stroke-width':4},root);
    
    
    const tl=mk('text',{x:cfg.labelRight,y:y+16,'text-anchor':'end','font-size':44,fill:'#111'},root);
    tl.textContent=h;
    
    
  });
  distanceTicks.forEach(d=>{
    const x=xS(d);
    const tk=mk('line',{x1:x,y1:cfg.y1,x2:x,y2:cfg.y1+32,stroke:'#999','stroke-width':3},root);
    
    
    const tl=mk('text',{x:x-2,y:cfg.y1+85,'text-anchor':'middle','font-size':44,fill:'#111'},root);
    tl.textContent=d;
    
    
  });
  /* colorbar */
  if(cfg.bar){
    const cy=v=>cfg.bar.y10-(v-10)*14.56;
    bandLevels.forEach((lv,i)=>{
      const r=mk('rect',{x:3479,y:cy(lv+2),width:45,height:14.56*2+.5,fill:bandColors[i]},root);
      
      
    });
    colorbarTicks.forEach(v=>{
      const tl=mk('text',{x:3537,y:cy(v)+16,'font-size':44,fill:'#111',textLength:47,lengthAdjust:'spacingAndGlyphs'},root);
      tl.textContent=v;
      
      
    });
    const ttl=mk('text',{transform:'translate(3602,'+(cfg.bar.y10-372)+') rotate(90)','text-anchor':'middle','font-size':52,fill:'#111',textLength:371,lengthAdjust:'spacingAndGlyphs'},root);
    ttl.textContent='Reflectivity (dBZ)';
    
    
  }
}

drawSection({id:'panelB',clip:'clipB',x0:2025,x1:3426,y0:51,y1:853,labelRight:1962,grid:reflectivityB,u:windUB,v:windVB,terrain:terrainB,terrainFill:'#050505',cold:coldIsothermsB,warm:warmIsothermsB,freezing:freezingLineB,labels:contourLabelsB,bar:{y10:817}});
drawSection({id:'panelC',clip:'clipC',x0:310,x1:1712,y0:1061,y1:1862,labelRight:247,grid:reflectivityC,u:windUC,v:windVC,terrain:terrainC,terrainFill:'#050505',cold:coldIsothermsC,warm:warmIsothermsC,freezing:freezingLineC,labels:contourLabelsC,bar:null});
drawSection({id:'panelD',clip:'clipD',x0:2026,x1:3425,y0:1061,y1:1862,labelRight:1962,grid:reflectivityD,u:windUC,v:windVC,terrain:terrainD,terrainFill:'url(#terrainStripes)',cold:coldIsothermsD,warm:warmIsothermsD,freezing:freezingLineD,labels:contourLabelsD,bar:{y10:1827}});

/* ---------- radar panel ---------- */
(function(){
  const root=document.getElementById('panelA');
  const rx=km=>991+km*11.09;
  const rz=h=>848-h*78.4;
  const add=(tag,attrs,name,parent)=>{
    const e=mk(tag,attrs,parent||root);
    
    
    return e;
  };
  add('rect',{x:303,y:51,width:1410,height:835,fill:'#030303'},'radar-frame');
  const plot=add('g',{'clip-path':'url(#clipRadarPlot)'},'radar-plot');
  add('rect',{x:326,y:66,width:1332,height:782,fill:'#a58e79'},'radar-background',plot);
  add('polygon',{points:polyPoints(coneLeftEdge.concat(coneRightEdge).concat([[8,10.5],[-30,10.5]]),rx,rz),fill:'#70604f'},'radar-blind-cone',plot);
  add('polygon',{points:polyPoints(groundDark,rx,rz),fill:'#7a6a59'},'radar-ground-shadow',plot);
  add('rect',{x:1559,y:67,width:80,height:85,rx:8,fill:'#9b8e88'},'radar-corner-patch',plot);
  /* sectors */
  const defs=document.querySelector('svg defs');
  const cl=mk('clipPath',{id:'clipLeftSector'},defs);
  mk('polygon',{points:polyPoints(leftTop.concat(leftBottom),rx,rz)},cl);
  const cr=mk('clipPath',{id:'clipRightSector'},defs);
  mk('polygon',{points:polyPoints([[0.85,0.4]].concat(rightTop).concat(rightBottom),rx,rz)},cr);
  const layerFractions=[1.5,0.85,0.66,0.46,0.27,0.1];
  const layerColors=['#36361a','#4d4e18','#70711a','#a2a317','#d4d312','#f2ee0c'];
  const leftLevel=2.9,rightLevel=5;
  const gl=add('g',{'clip-path':'url(#clipLeftSector)'},'radar-left-sector',plot);
  const gr=add('g',{'clip-path':'url(#clipRightSector)'},'radar-right-sector',plot);
  const ll=add('g',{filter:'url(#layerBlur)'},'radar-left-echo-gradient',gl);
  const rl=add('g',{filter:'url(#layerBlur)'},'radar-right-echo-gradient',gr);
  layerFractions.forEach((f,i)=>{
    const lh=h=>leftLevel+(h-leftLevel)*f;
    const lpts=leftTop.map(p=>[p[0],lh(p[1])]).concat([[6,lh(leftTop[leftTop.length-1][1])],[6,-1],[-60,-1]]);
    add('polygon',{points:polyPoints(lpts,rx,rz),fill:layerColors[i]},'radar-echo-layer',ll);
    const rh=h=>rightLevel+(h-rightLevel)*f;
    const rpts=[[0,rh(rightTop[0][1])]].concat(rightTop.map(p=>[p[0],rh(p[1])])).concat([[62,rh(rightTop[rightTop.length-1][1])],[62,-1],[0,-1]]);
    add('polygon',{points:polyPoints(rpts,rx,rz),fill:layerColors[i]},'radar-echo-layer',rl);
  });
  add('rect',{x:326,y:66,width:1332,height:782,fill:'url(#radarStreaks)',filter:'url(#radarBlur)'},'radar-left-streaks',gl);
  add('rect',{x:326,y:66,width:1332,height:782,fill:'url(#radarStreaks)',filter:'url(#radarBlur)'},'radar-right-streaks',gr);
  const bl=add('g',{filter:'url(#radarBlur)'},'radar-left-echo',gl);
  const br=add('g',{filter:'url(#radarBlur)'},'radar-right-echo',gr);
  add('polyline',{points:polyPoints(rightBottom.slice(0,6),rx,rz),fill:'none',stroke:'#55551a','stroke-width':16},'radar-echo-lower-edge',br);
  const paint=(list,color,name)=>{
    list.forEach(poly=>{
      const g=poly.every(p=>p[0]<=0)?bl:br;
      add('polygon',{points:polyPoints(poly,rx,rz),fill:color},name,g);
    });
  };
  paint(orangeBlobs,'#f4a015','radar-orange-echo');
  paint(yellowPatches,'#ece60f','radar-yellow-echo');
  paint(blueBlobs,'#2a4eaa','radar-blue-echo');
  paint(innerOrangeStrips,'#f4a015','radar-orange-strip');
  paint(cyanBlobs,'#2c94b8','radar-cyan-echo');
  paint(brightCyanBlobs,'#49c3d6','radar-bright-cyan-echo');
  add('polygon',{points:polyPoints(mountains,rx,rz),fill:'#050505'},'radar-mountains',plot);
  /* gridlines */
  radarXTicks.forEach(k=>{
    add('line',{x1:rx(k),y1:66,x2:rx(k),y2:848,stroke:'#4f4336','stroke-width':2,'stroke-dasharray':'5 3','stroke-opacity':.5},'radar-grid-x',plot);
  });
  radarZTicks.forEach(k=>{
    add('line',{x1:326,y1:rz(k),x2:1658,y2:rz(k),stroke:'#4f4336','stroke-width':2,'stroke-dasharray':'5 3','stroke-opacity':.65},'radar-grid-z',plot);
  });
  /* annotations */
  const dash=(pts,col,w,da,name)=>add('path',{d:smoothPath(pts,rx,rz),fill:'none',stroke:col,'stroke-width':w,'stroke-dasharray':da},name,plot);
  dash(zeroDegLeft,'#fff',4,'12 5','zero-degree-line-left');
  dash(zeroDegRight,'#fff',4,'12 5','zero-degree-line-right');
  dash(jetPathUpper,'#fff',4,'12 6','low-level-jet-path');
  dash(jetPathLower,'#fff',4,'12 6','low-level-jet-path-lower');
  add('polyline',{points:polyPoints(jetHeadUpper,rx,rz),fill:'none',stroke:'#fff','stroke-width':4},'jet-arrow-head',plot);
  add('polyline',{points:polyPoints(jetHeadLower,rx,rz),fill:'none',stroke:'#fff','stroke-width':4},'jet-arrow-head-lower',plot);
  dash(frontLineA,'#111',3.5,'7 3','turbulent-boundary');
  dash(frontLineB,'#111',3.5,'7 3','terrain-flow-boundary');
  const lab=(s,x,y,size,fill,name,extra)=>{
    const e=add('text',Object.assign({x:x,y:y,'text-anchor':'middle','font-size':size,fill:fill},extra||{}),name);
    e.textContent=s;
    return e;
  };
  lab('0°C',993,623,38,'#eee','zero-degree-label');
  lab('Turbulent  flow',1569,619,28,'#111','turbulent-flow-label',{'font-weight':'bold',textLength:166,lengthAdjust:'spacingAndGlyphs'});
  lab('Low-level Jet',648,829,38,'#f2eadf','low-level-jet-label',{textLength:182,lengthAdjust:'spacingAndGlyphs'});
  lab('Heavy Rain',1141,815,30,'#bdeef2','heavy-rain-label',{textLength:120,lengthAdjust:'spacingAndGlyphs'});
  lab('Hokitika',909,835,18,'#ddd','hokitika-label');
  lab('Arthurs',1517,820,18,'#ddd','arthurs-label');
  lab('Pass',1512,842,18,'#ddd','pass-label');
  /* axes */
  add('polyline',{points:'326,66 326,849 1658,849 1658,66',fill:'none',stroke:'#8f8f8f','stroke-width':3},'radar-axis-frame');
  radarXTicks.forEach(k=>{
    const e=lab(k,rx(k),874,18,'#999','radar-x-tick-label');
    e.setAttribute('font-weight','bold');
  });
  radarZTicks.forEach(k=>{
    add('circle',{cx:1668,cy:rz(k),r:4,fill:'none',stroke:'#888','stroke-width':2},'radar-right-tick');
    add('circle',{cx:312,cy:rz(k),r:3,fill:'none',stroke:'#888','stroke-width':2},'radar-left-tick');
  });
  const hk=add('text',{transform:'translate(1692,452) rotate(-90)','text-anchor':'middle','font-size':20,'font-weight':'bold',fill:'#4f7f84'},'radar-height-label');
  hk.textContent='Height (km)';
  /* title and legend */
  add('rect',{x:326,y:60,width:543,height:46,fill:'#030303',stroke:'#999','stroke-width':3},'radar-title-box');
  const ti=add('text',{x:337,y:96,'font-size':34,fill:'#ddd',textLength:525,lengthAdjust:'spacingAndGlyphs'},'radar-title');
  ti.textContent='Reflectivity (dBZc) - mainly size dependent';
  add('rect',{x:328,y:108,width:141,height:444,fill:'#030303'},'radar-legend-box');
  add('rect',{x:335,y:115,width:125,height:430,fill:'none',stroke:'#888','stroke-width':3},'radar-legend-border');
  add('rect',{x:379,y:123,width:31,height:412,fill:'url(#radarScale)'},'radar-legend-scale');
  radarScaleLabels.forEach(s=>{
    const e=add('text',{x:359,y:s[1]+11,'text-anchor':'middle','font-size':32,fill:'#c9c9c9',textLength:s[0].length*15,lengthAdjust:'spacingAndGlyphs'},'radar-legend-label');
    e.textContent=s[0];
  });
  const lt=add('text',{transform:'translate(442,331) rotate(-90)','text-anchor':'middle','font-size':28,'font-weight':'bold',fill:'#9db8d8',textLength:250,lengthAdjust:'spacingAndGlyphs'},'radar-legend-title');
  lt.textContent='Reflectivity (dBZc)';
})();
</script>
</body>
</html>
